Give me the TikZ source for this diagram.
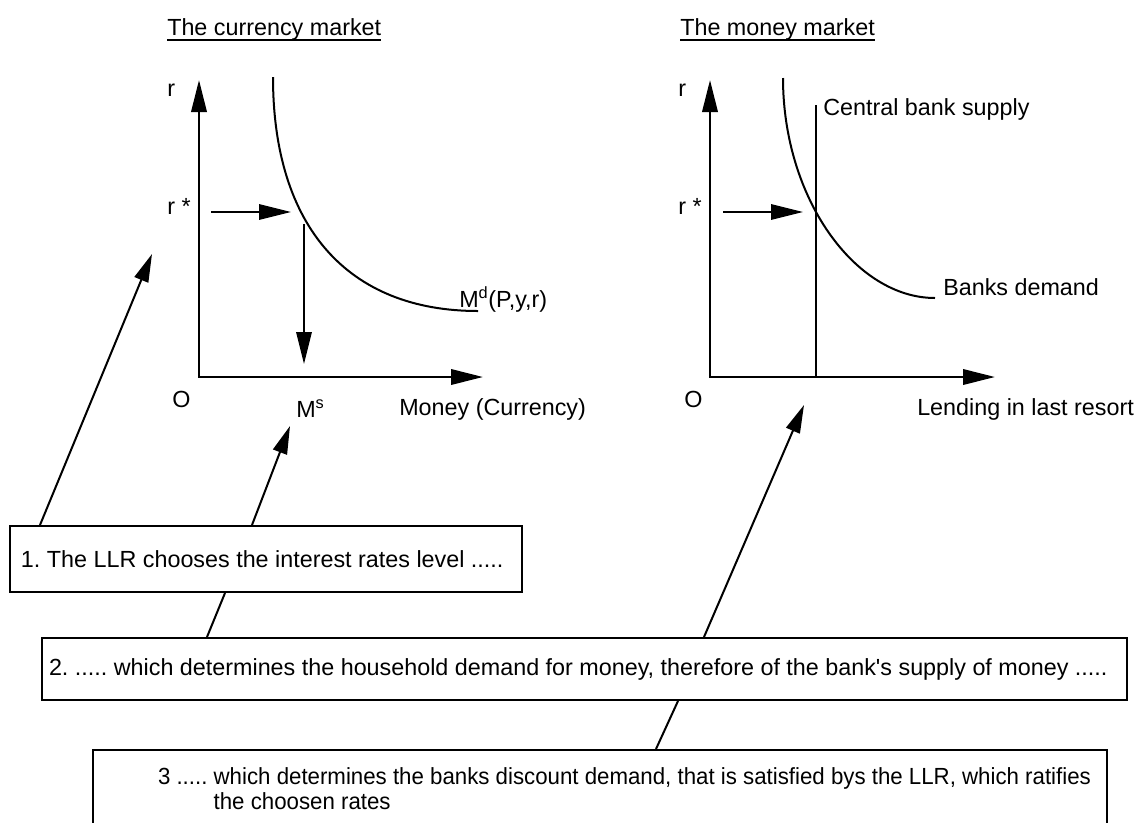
\documentclass[tikz,border=0pt]{standalone}
\usepackage{fontspec}
\usepackage{graphicx}
\setmainfont{Liberation Sans}[Ligatures=TeXOff]
\usetikzlibrary{arrows.meta,calc}
\tikzset{
  lbl/.style={inner sep=0pt, anchor=base west, font=\fontsize{17.5}{18.75}\selectfont},
  axisline/.style={line width=1.9pt, line join=miter, {Triangle[length=24pt,width=11.5pt]}-{Triangle[length=24pt,width=11.5pt]}},
  bigarrow/.style={line width=1.5pt, -{Triangle[length=24pt,width=11.5pt]}},
  conn/.style={line width=1.5pt, -{Triangle[length=21pt,width=11pt]}},
  link/.style={line width=1.5pt},
  curve/.style={line width=1.5pt},
  textbox/.style={draw, line width=1.5pt, inner sep=0pt, anchor=north west, font=\fontsize{17.5}{18.75}\selectfont},
  uline/.style={line width=1.1pt},
}
\begin{document}
\frenchspacing
\begin{tikzpicture}[x=0.75pt,y=-0.75pt]
\useasboundingbox (0,0) rectangle (1136,822);
% titles
\node[lbl] (t1) at (167,35) {The currency market};
\draw[uline] ($(t1.base west)+(0,5)$) -- ($(t1.base east)+(0,5)$);
\node[lbl] (t2) at (680,35) {The money market};
\draw[uline] ($(t2.base west)+(0,5)$) -- ($(t2.base east)+(0,5)$);

% left chart: the currency market
\coordinate (O1) at (199,377);
\coordinate (Y1) at (199,80);
\coordinate (X1) at (483,377);
\draw[axisline] (Y1) -- (O1) -- (X1);
\node[lbl] (r1) at (167,96) {r};
\node[lbl] (rs1) at (167,214) {r *};
\node[lbl] (o1) at (172,407) {O};
\node[lbl] (ms) at (296,417) {M\textsuperscript{s}};
\node[lbl] (xl1) at (399,415) {Money (Currency)};
\node[lbl] (md) at (459,307) {M\textsuperscript{d}(P,y,r)};
\coordinate (h1a) at (211,212);
\coordinate (h1b) at (291,212);
\draw[bigarrow] (h1a) -- (h1b);
\coordinate (v1a) at (304,224);
\coordinate (v1b) at (304,364);
\draw[bigarrow] (v1a) -- (v1b);
\draw[curve] (273,77) .. controls (273,227) and (348,311) .. (478,311);

% right chart: the money market
\coordinate (O2) at (710,377);
\coordinate (Y2) at (710,80);
\coordinate (X2) at (995,377);
\draw[axisline] (Y2) -- (O2) -- (X2);
\node[lbl] (r2) at (678,96) {r};
\node[lbl] (rs2) at (678,214) {r *};
\node[lbl] (o2) at (684,407) {O};
\node[lbl] (cbs) at (823,115) {Central bank supply};
\node[lbl] (bd) at (943,295) {Banks demand};
\node[lbl] (xl2) at (917,415) {Lending in last resort};
\coordinate (h2a) at (723,212);
\coordinate (h2b) at (803,212);
\draw[bigarrow] (h2a) -- (h2b);
\coordinate (sTop) at (816,105);
\coordinate (sBot) at (816,377);
\draw[link] (sTop) -- (sBot);
\draw[curve] (783,78) .. controls (783,198) and (855,298) .. (935,298);

% text boxes
\node[textbox, minimum width=384pt, minimum height=49.5pt] (b1) at (9,525)
  {\makebox[384pt][l]{\hspace*{8.25pt}1. The LLR chooses the interest rates level .....}};
\node[textbox, minimum width=813.75pt, minimum height=46.5pt] (b2) at (41,637)
  {\makebox[813.75pt][l]{\hspace*{5.25pt}2. ..... which determines the household demand for money, therefore of the bank's supply of money .....}};
\node[textbox, minimum width=760.5pt, minimum height=62.25pt] (b3) at (92,749)
  {\makebox[760.5pt][l]{\hspace*{48.75pt}\scalebox{0.954}[1]{\begin{tabular}{@{}l@{\ }l@{}}3 ..... & which determines the banks discount demand, that is satisfied bys the LLR, which ratifies\\ & the choosen rates\end{tabular}}}};

% connectors
\coordinate (tipA) at (152,254);
\coordinate (tipB) at (290,426);
\coordinate (tipC) at (804,405);
\draw[conn] ($(b1.north west)+(31,0)$) -- (tipA);
\draw[conn] ($(b1.north west)+(243,0)$) -- (tipB);
\draw[link] ($(b2.north west)+(166,0)$) -- ($(b1.south west)+(216,0)$);
\draw[conn] ($(b2.north west)+(663,0)$) -- (tipC);
\draw[link] ($(b3.north west)+(564,0)$) -- ($(b2.south west)+(637,0)$);
\end{tikzpicture}
\end{document}
